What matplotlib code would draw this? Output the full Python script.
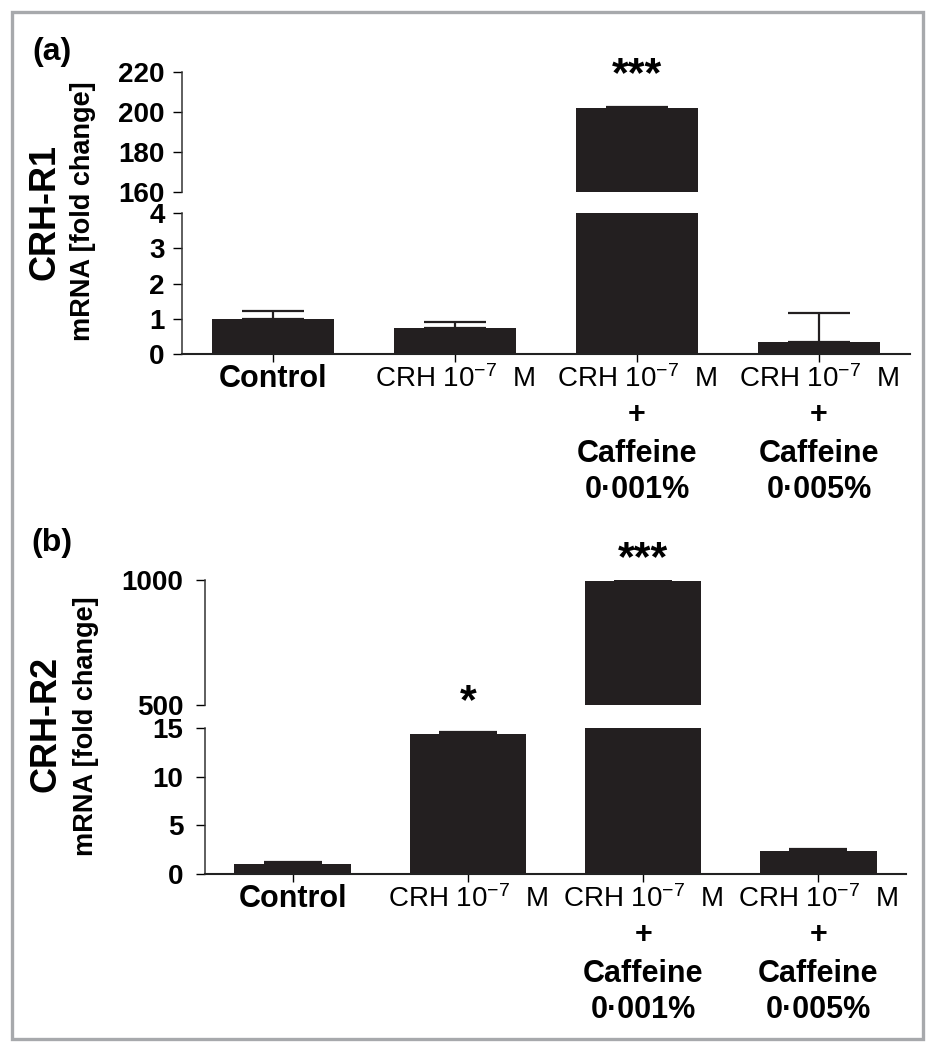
import numpy as np
import matplotlib
matplotlib.use("Agg")
import matplotlib.pyplot as plt
from matplotlib.patches import Rectangle

plt.rcParams['font.family'] = ['Liberation Sans', 'DejaVu Sans']
plt.rcParams['mathtext.fontset'] = 'custom'
plt.rcParams['mathtext.rm'] = 'Liberation Sans'
plt.rcParams['mathtext.default'] = 'regular'

# -----------------------------------------------------------
# Data
# -----------------------------------------------------------
groups = ["Control", "CRH", "CRH + Caffeine 0.001%", "CRH + Caffeine 0.005%"]

r1_mean = [1.0, 0.74, 202.0, 0.35]
r1_err = [0.23, 0.18, 0.6, 0.81]
r1_stars = ["", "", "***", ""]

r2_mean = [1.03, 14.4, 996.0, 2.36]
r2_err = [0.17, 0.2, 3.0, 0.21]
r2_stars = ["", "*", "***", ""]

# label lines under each bar: (text, weight)
label_lines = [
    [("Control", "bold")],
    [("CRH 10$^{-7}$  M", "normal")],
    [("CRH 10$^{-7}$  M", "normal"), ("+", "bold"), ("Caffeine", "bold"), ("0·001%", "bold")],
    [("CRH 10$^{-7}$  M", "normal"), ("+", "bold"), ("Caffeine", "bold"), ("0·005%", "bold")],
]

BAR_COLOR = "#231f20"
W, H = 934, 1050


def fig_rect(x0, x1, ytop, ybot):
    return [x0 / W, 1 - ybot / H, (x1 - x0) / W, (ybot - ytop) / H]


def style_axis(ax, top_part, pad):
    for s in ["top", "right"]:
        ax.spines[s].set_visible(False)
    ax.spines["left"].set_linewidth(1.1)
    ax.spines["left"].set_color("#333333")
    ax.tick_params(axis="y", direction="out", length=6.5, width=1.0,
                   labelsize=20, pad=pad)
    for t in ax.get_yticklabels():
        t.set_fontweight("bold")
    if top_part:
        ax.spines["bottom"].set_visible(False)
        ax.tick_params(axis="x", bottom=False, labelbottom=False)
    else:
        ax.spines["bottom"].set_linewidth(1.5)
        ax.spines["bottom"].set_color("#222222")
        ax.tick_params(axis="x", direction="out", length=6, width=1.0,
                       labelbottom=False)


def draw_bars(ax, means, errs, width, capsize):
    x = np.arange(len(means))
    ax.bar(x, means, width=width, color=BAR_COLOR, edgecolor="none")
    ax.errorbar(x, means, yerr=[np.zeros(len(errs)), errs], fmt="none",
                ecolor=BAR_COLOR, elinewidth=1.6, capsize=capsize,
                capthick=1.6)
    ax.set_xlim(-0.5, len(means) - 0.5)
    ax.set_xticks(x)


def panel(rect_top, rect_bot, means, errs, stars, ylim_top, yticks_top,
          ylim_bot, yticks_bot, width, capsize, star_y, pad):
    ax_t = fig.add_axes(rect_top)
    ax_b = fig.add_axes(rect_bot)
    for ax in (ax_t, ax_b):
        draw_bars(ax, means, errs, width, capsize)
    ax_t.set_ylim(*ylim_top)
    ax_t.set_yticks(yticks_top)
    ax_b.set_ylim(*ylim_bot)
    ax_b.set_yticks(yticks_bot)
    style_axis(ax_t, True, pad)
    style_axis(ax_b, False, pad)

    for i, s in enumerate(stars):
        if s:
            fig.text((ax_b.transData.transform((i, 0))[0]) / W,
                     1 - star_y[i] / H, s, ha="center", va="center",
                     fontsize=31, fontweight="bold")

    offsets = [25, 61, 100, 136]  # px below x axis
    for i, lines in enumerate(label_lines):
        for j, (txt, wt) in enumerate(lines):
            ax_b.annotate(txt, xy=(i, 0), xycoords=("data", "axes fraction"),
                          xytext=(0, -offsets[j] * 72 / 100),
                          textcoords="offset points", ha="center",
                          va="center", fontsize=20 if wt == "normal" else 22,
                          fontweight=wt, annotation_clip=False)
    return ax_t, ax_b


fig = plt.figure(figsize=(W / 100, H / 100), dpi=100)

# ---------------- panel (a) ----------------
panel(fig_rect(182, 910, 72, 192), fig_rect(182, 910, 213, 354),
      r1_mean, r1_err, r1_stars,
      (160, 220), [160, 180, 200, 220], (0, 4), [0, 1, 2, 3, 4],
      0.665, 22, {2: 75}, 6)

fig.text(52 / W, 1 - 52 / H, "(a)", ha="center", va="center",
         fontsize=23, fontweight="bold")
fig.text(45 / W, 1 - 212 / H, "CRH-R1", rotation=90, ha="center",
         va="center", fontsize=26, fontweight="bold")
fig.text(83 / W, 1 - 211 / H, "mRNA [fold change]", rotation=90,
         ha="center", va="center", fontsize=19.5, fontweight="bold")

# ---------------- panel (b) ----------------
panel(fig_rect(205, 906, 580, 705), fig_rect(205, 906, 728, 874),
      r2_mean, r2_err, r2_stars,
      (500, 1000), [500, 1000], (0, 15), [0, 5, 10, 15],
      0.665, 21, {1: 702, 2: 559}, 9)

fig.text(52 / W, 1 - 543 / H, "(b)", ha="center", va="center",
         fontsize=23, fontweight="bold")
fig.text(46 / W, 1 - 724 / H, "CRH-R2", rotation=90, ha="center",
         va="center", fontsize=26, fontweight="bold")
fig.text(86 / W, 1 - 726 / H, "mRNA [fold change]", rotation=90,
         ha="center", va="center", fontsize=19.5, fontweight="bold")

# grey frame around the figure
fig.patches.append(Rectangle((12 / W, 1 - 1039 / H), 911 / W, 1027 / H,
                             transform=fig.transFigure, fill=False,
                             edgecolor="#a7a9ac", linewidth=2.4))

fig.savefig("out.png", dpi=100)
